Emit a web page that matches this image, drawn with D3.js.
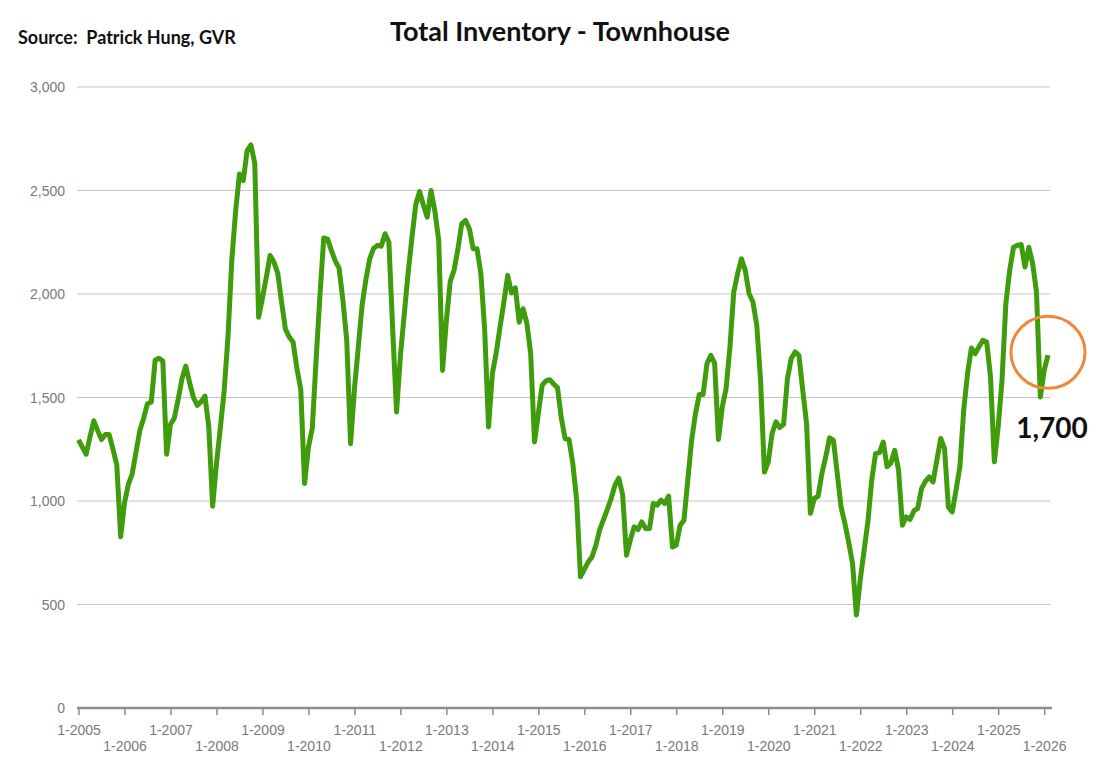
<!DOCTYPE html>
<html>
<head>
<meta charset="utf-8">
<script src="https://cdn.jsdelivr.net/npm/d3@7"></script>
<style>
  html, body { margin: 0; padding: 0; background: #fff; }
  svg { display: block; }
</style>
</head>
<body>
<svg id="chart" width="1104" height="776"></svg>
<script>
// === Data: monthly townhouse inventory, Jan 2005 .. Feb 2026 ===
const startYear = 2005;
const inventory = [
  1295, 1260, 1226, 1310, 1387, 1340, 1297, 1321, 1321, 1250, 1173, 827,   // 2005
  990, 1080, 1130, 1235, 1340, 1400, 1470, 1478, 1680, 1690, 1676, 1226,   // 2006
  1370, 1400, 1490, 1590, 1652, 1570, 1500, 1462, 1480, 1507, 1358, 975,   // 2007
  1180, 1350, 1530, 1790, 2162, 2400, 2580, 2548, 2693, 2720, 2630, 1888,  // 2008
  1980, 2080, 2186, 2154, 2100, 1960, 1830, 1792, 1768, 1640, 1540, 1084,  // 2009
  1260, 1350, 1680, 1990, 2271, 2265, 2210, 2160, 2125, 1970, 1776, 1277,  // 2010
  1540, 1740, 1945, 2070, 2170, 2220, 2235, 2231, 2291, 2250, 1824, 1430,  // 2011
  1700, 1900, 2098, 2270, 2430, 2495, 2430, 2371, 2500, 2400, 2259, 1631,  // 2012
  1870, 2060, 2115, 2215, 2339, 2355, 2315, 2218, 2218, 2100, 1824, 1358,  // 2013
  1615, 1715, 1840, 1960, 2090, 2005, 2030, 1864, 1929, 1860, 1712, 1285,  // 2014
  1422, 1560, 1580, 1586, 1565, 1548, 1400, 1300, 1297, 1181, 1004, 634,   // 2015
  670, 705, 730, 785, 860, 910, 960, 1012, 1076, 1110, 1030, 738,          // 2016
  811, 875, 862, 899, 867, 867, 988, 980, 1004, 988, 1023, 778,            // 2017
  787, 883, 907, 1100, 1293, 1422, 1515, 1515, 1663, 1704, 1666, 1297,     // 2018
  1454, 1543, 1744, 2010, 2098, 2170, 2114, 2001, 1961, 1850, 1580, 1140,  // 2019
  1189, 1326, 1382, 1355, 1370, 1590, 1688, 1720, 1704, 1535, 1374, 940,   // 2020
  1012, 1023, 1133, 1213, 1305, 1293, 1133, 971, 891, 800, 698, 449,       // 2021
  618, 760, 900, 1100, 1229, 1234, 1285, 1165, 1184, 1245, 1149, 883,      // 2022
  923, 911, 952, 964, 1060, 1095, 1116, 1092, 1197, 1302, 1253, 971,       // 2023
  947, 1052, 1165, 1438, 1615, 1739, 1712, 1745, 1776, 1768, 1599, 1189,   // 2024
  1358, 1583, 1953, 2114, 2226, 2235, 2239, 2130, 2226, 2146, 2009, 1502,  // 2025
  1631, 1705                                                               // 2026
];
const yTicks = [0, 500, 1000, 1500, 2000, 2500, 3000];
const xTickYears = d3.range(2005, 2027);   // labels "1-YYYY"
const titleText = 'Total Inventory - Townhouse';
const sourceText = 'Source:  Patrick Hung, GVR';
const calloutText = '1,700';

(function () {
  const svg = d3.select('#chart');
  const left = 77, right = 1050, top = 87, bottom = 708;

  const x = d3.scaleLinear().domain([0, inventory.length - 1]).range([78.5, 1048]);
  const y = d3.scaleLinear().domain([0, 3000]).range([bottom, top]);

  // Gridlines
  svg.append('g')
    .selectAll('line')
    .data(yTicks.filter(d => d > 0))
    .join('line')
    .attr('x1', left).attr('x2', right)
    .attr('y1', d => y(d)).attr('y2', d => y(d))
    .attr('stroke', '#c6c6c6')
    .attr('stroke-width', 1.2);

  // Y labels
  svg.append('g')
    .selectAll('text')
    .data(yTicks)
    .join('text')
    .attr('x', 65)
    .attr('y', d => y(d))
    .attr('dy', '0.36em')
    .attr('text-anchor', 'end')
    .attr('font-family', 'Liberation Sans, Arial, sans-serif')
    .attr('font-size', 14)
    .attr('fill', '#7a7a7a')
    .text(d => d3.format(',')(d));

  // X axis
  const xAxis = d3.axisBottom(x)
    .tickValues(xTickYears.map(yr => (yr - startYear) * 12))
    .tickSize(7)
    .tickFormat(v => '1-' + (startYear + v / 12));

  const gx = svg.append('g')
    .attr('transform', `translate(0,${bottom})`)
    .call(xAxis);
  gx.select('.domain').remove();
  gx.append('line')
    .attr('x1', left).attr('x2', right + 2)
    .attr('stroke', '#8c8c8c').attr('stroke-width', 2.5);
  gx.selectAll('.tick line').attr('stroke', '#8c8c8c').attr('stroke-width', 1.5);
  gx.selectAll('.tick text')
    .attr('font-family', 'Liberation Sans, Arial, sans-serif')
    .attr('font-size', 14)
    .attr('fill', '#7a7a7a')
    .attr('y', (d, i) => i % 2 === 0 ? 17 : 33)
    .attr('dy', '0.71em');

  // Line
  const line = d3.line()
    .x((d, i) => x(i))
    .y(d => y(d));

  svg.append('path')
    .datum(inventory)
    .attr('d', line)
    .attr('fill', 'none')
    .attr('stroke', '#3f9c0c')
    .attr('stroke-width', 5)
    .attr('stroke-linejoin', 'round');

  // Callout circle + value
  const last = inventory.length - 1;
  svg.append('ellipse')
    .attr('cx', x(last))
    .attr('cy', y(1718))
    .attr('rx', 37)
    .attr('ry', 36)
    .attr('fill', 'none')
    .attr('stroke', '#f0883a')
    .attr('stroke-width', 3);

  svg.append('text')
    .attr('x', 1052)
    .attr('y', 438)
    .attr('text-anchor', 'middle')
    .attr('font-family', 'Lato, Open Sans, sans-serif')
    .attr('font-weight', 700)
    .attr('font-size', 28)
    .attr('fill', '#111')
    .text(calloutText);

  // Title & source
  svg.append('text')
    .attr('x', 560)
    .attr('y', 41)
    .attr('text-anchor', 'middle')
    .attr('font-family', 'Lato, Open Sans, sans-serif')
    .attr('font-weight', 700)
    .attr('font-size', 27)
    .attr('fill', '#111')
    .text(titleText);

  svg.append('text')
    .attr('x', 18)
    .attr('y', 44)
    .attr('font-family', 'Lato, Open Sans, sans-serif')
    .attr('font-weight', 700)
    .attr('font-size', 18)
    .attr('fill', '#111')
    .style('white-space', 'pre')
    .text(sourceText);
})();
</script>
</body>
</html>
